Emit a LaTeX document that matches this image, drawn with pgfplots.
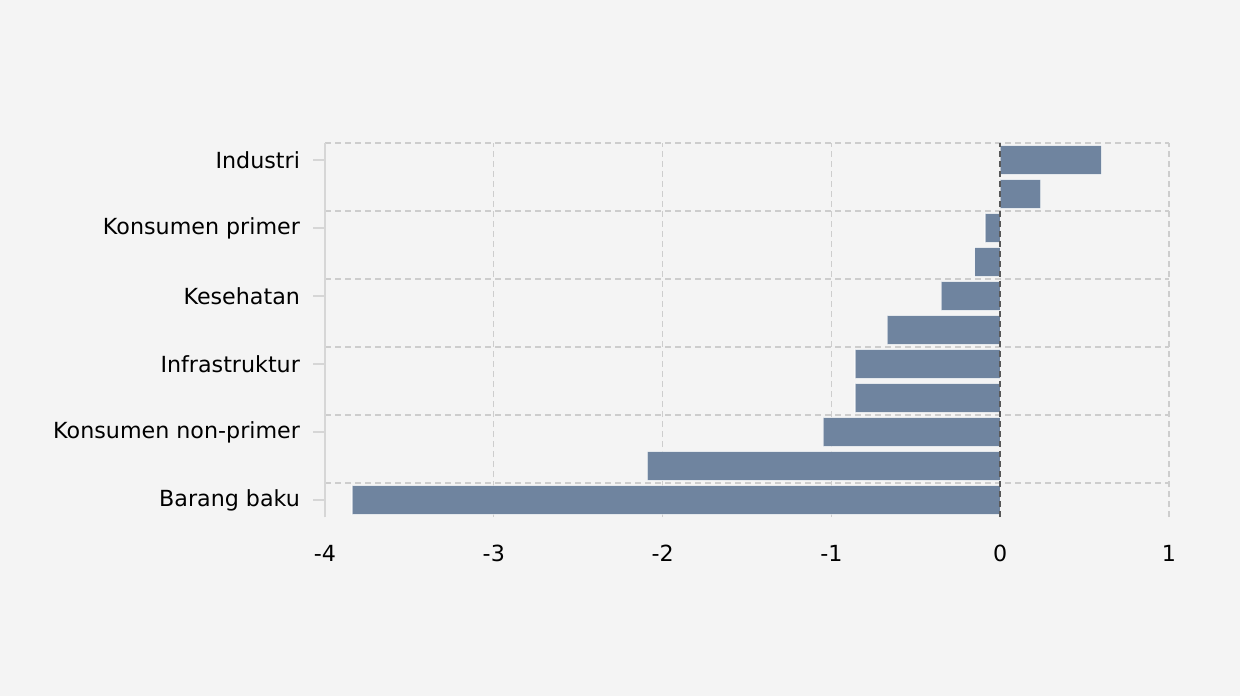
\documentclass[border=0pt]{standalone}
\usepackage{fontspec}
\setmainfont{DejaVu Sans}
\usepackage{pgfplots}
\pgfplotsset{compat=1.18}
\definecolor{bgc}{HTML}{F4F4F4}
\definecolor{barc}{HTML}{6F849F}
\definecolor{gridc}{HTML}{CDCDCD}
\definecolor{axc}{HTML}{D6D6D6}
\begin{document}
\begin{tikzpicture}[x=1pt,y=1pt]
\fill[bgc] (0,0) rectangle (620,348);
\begin{axis}[
  at={(162.5pt,89.5pt)}, anchor=south west,
  scale only axis, width=422pt, height=187pt,
  xmin=-4, xmax=1, ymin=-0.5, ymax=10.5,
  axis line style={draw=none},
  xtick={-4,-3,-2,-1,0,1},
  xticklabels={-4,-3,-2,-1,0,1},
  x tick label style={font=\fontsize{11.1}{13}\selectfont, yshift=-4.5pt},
  xmajorgrids=true,
  major x grid style={gridc, dash pattern=on 3pt off 2pt, line width=0.6pt},
  ytick={0,2,4,6,8,10},
  yticklabels={Barang baku,Konsumen non-primer,Infrastruktur,Kesehatan,Konsumen primer,Industri},
  y tick label style={font=\fontsize{11.1}{13}\selectfont, xshift=-3pt},
  minor ytick={0.5,2.5,4.5,6.5,8.5,10.5},
  yminorgrids=true,
  minor y grid style={gridc, dash pattern=on 3pt off 2pt, line width=0.6pt},
  minor tick length=0pt,
  xtick style={draw=none},
  major tick length=6pt,
  ytick style={axc, line width=0.8pt},
  tick align=outside,
  tick pos=left,
  /pgf/number format/assume math mode=true,
  clip=false,
]
\addplot[xbar, bar width=0.85, fill=barc, draw=white, draw opacity=0.55, line width=0.6pt]
  coordinates {
  (-3.84,0) (-2.09,1) (-1.05,2) (-0.86,3) (-0.86,4) (-0.67,5) (-0.35,6) (-0.15,7) (-0.09,8) (0.24,9) (0.60,10)
  };
\draw[axc, line width=0.9pt] (axis cs:-4,-0.5) -- (axis cs:-4,10.5);
\draw[black!65, dash pattern=on 3pt off 2pt, line width=0.8pt] (axis cs:0,-0.5) -- (axis cs:0,10.5);
\end{axis}
\end{tikzpicture}
\end{document}
